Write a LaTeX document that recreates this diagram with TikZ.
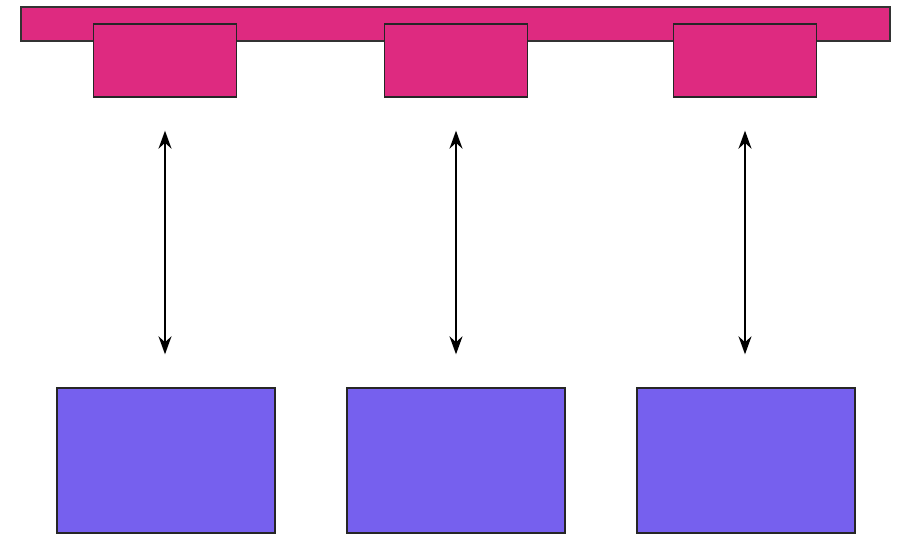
\documentclass[tikz,border=0pt]{standalone}
\usetikzlibrary{arrows.meta}
\definecolor{busPink}{HTML}{DE2A80}
\definecolor{unitBlue}{HTML}{7660EE}
\tikzset{
  bus/.style={
    rectangle,
    fill=busPink,
    draw=black!80,
    line width=0.8pt,
    minimum width=17.38cm,
    minimum height=0.68cm,
    inner sep=0pt,
  },
  port/.style={
    rectangle,
    fill=busPink,
    draw=black!85,
    line width=0.8pt,
    minimum width=2.86cm,
    minimum height=1.46cm,
    inner sep=0pt,
  },
  unit/.style={
    rectangle,
    fill=unitBlue,
    draw=black!85,
    line width=0.8pt,
    minimum width=4.36cm,
    minimum height=2.9cm,
    inner sep=0pt,
  },
  link/.style={
    arrows={Stealth[length=3.6mm,width=2.6mm]-Stealth[length=3.6mm,width=2.6mm]},
    line width=1pt,
    shorten >=0.66cm,
    shorten <=0.66cm,
  }
}

\begin{document}
\begin{tikzpicture}[x=0.02cm, y=0.02cm]
    \useasboundingbox (0, 0) rectangle (902, 535);

    % Shared bus with its three ports
    \node[bus] (bus) at (455.5, 511) {};
    \node[port] (portA) at (165, 474.5) {};
    \node[port] (portB) at (456, 474.5) {};
    \node[port] (portC) at (745, 474.5) {};

    % Units below
    \node[unit] (unitA) at (166, 74.5) {};
    \node[unit] (unitB) at (456, 74.5) {};
    \node[unit] (unitC) at (746, 74.5) {};

    \draw[link] (portA.south) -- (portA.south |- unitA.north);
    \draw[link] (portB.south) -- (portB.south |- unitB.north);
    \draw[link] (portC.south) -- (portC.south |- unitC.north);

\end{tikzpicture}
\end{document}
